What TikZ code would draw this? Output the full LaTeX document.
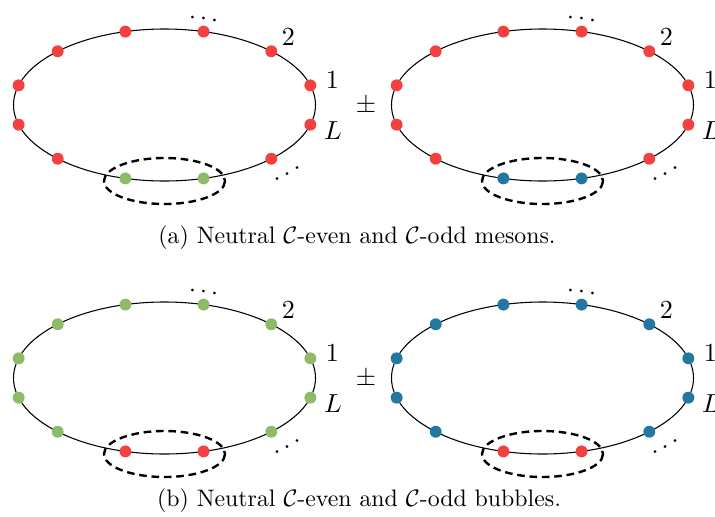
\documentclass[tikz,border=0pt]{standalone}
\usepackage{amsmath}
\definecolor{dotred}{RGB}{245,64,64}
\definecolor{dotgreen}{RGB}{141,187,104}
\definecolor{dotblue}{RGB}{35,120,162}
\tikzset{
  ring/.style={line width=0.45pt},
  pair/.style={line width=1pt, dash pattern=on 3.2pt off 2pt},
  dotR/.style={circle, fill=dotred, inner sep=0pt, minimum size=5pt},
  dotG/.style={circle, fill=dotgreen, inner sep=0pt, minimum size=5pt},
  dotB/.style={circle, fill=dotblue, inner sep=0pt, minimum size=5pt},
  lab/.style={inner sep=0pt, font=\fontsize{11}{13}\selectfont},
  captext/.style={inner sep=0pt, font=\normalsize},
}
\newcommand{\ringdiagram}[5]{%
  % #1 name prefix, #2 cx, #3 cy, #4 outer style, #5 inner style
  \draw[ring] (#2,#3) ellipse [x radius=151, y radius=76];
  \foreach \t/\k in {15/1,45/2,75/3,105/4,135/5,165/6,195/7,225/8,315/11,345/12}{
    \node[#4] (#1d\k) at ({#2+151*cos(\t)},{#3-76*sin(\t)}) {};
  }
  \node[#5] (#1d9) at ({#2+151*cos(255)},{#3-76*sin(255)}) {};
  \node[#5] (#1d10) at ({#2+151*cos(285)},{#3-76*sin(285)}) {};
  \draw[pair] (#2,#3+76) ellipse [x radius=60.5, y radius=23];
  \node[lab] (#1two) at (#2+123.8,#3-68.3) {$2$};
  \node[lab] (#1one) at (#2+168,#3-24.5) {$1$};
  \node[lab] (#1L) at (#2+168.5,#3+25.5) {$L$};
  \node[lab, anchor=base, rotate=-7.5] (#1top) at (#2+40.8,#3-79.3) {$\cdots$};
  \node[lab, anchor=base, rotate=29] (#1bot) at (#2+128,#3+73.4) {$\cdots$};
}
\begin{document}
\begin{tikzpicture}[x=0.42pt, y=-0.42pt]
\useasboundingbox (0,0) rectangle (715,517);
\ringdiagram{a}{164.5}{105}{dotR}{dotG}
\ringdiagram{b}{542.5}{105}{dotR}{dotB}
\node[lab] (pma) at (366,106) {$\pm$};
\node[captext] (capa) at (357,238) {(a) Neutral $\mathcal{C}$-even and $\mathcal{C}$-odd mesons.};
\ringdiagram{c}{164.5}{378}{dotG}{dotR}
\ringdiagram{d}{542.5}{378}{dotB}{dotR}
\node[lab] (pmb) at (366,379) {$\pm$};
\node[captext] (capb) at (359,501) {(b) Neutral $\mathcal{C}$-even and $\mathcal{C}$-odd bubbles.};
\end{tikzpicture}
\end{document}
